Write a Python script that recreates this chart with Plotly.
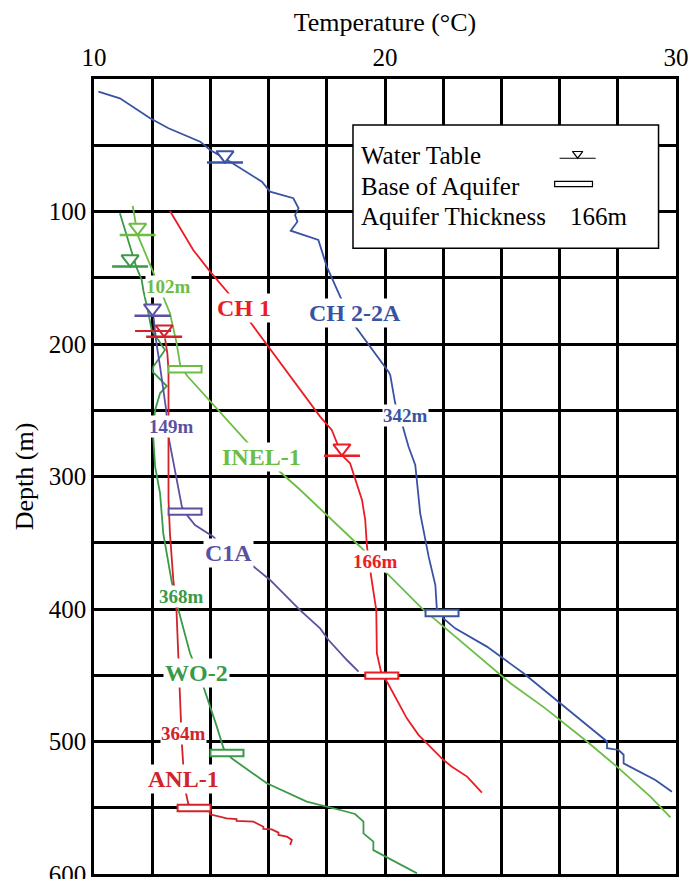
import plotly.graph_objects as go

# ---------------- data ----------------
ch2_t = [10.15, 10.89, 11.93, 12.56, 13.65, 13.99, 14.5, 15.77, 16.05, 16.85, 17.03, 16.91, 16.99, 16.76, 17.71,
         18.0, 18.46, 18.97, 20.12, 20.18, 20.35, 20.58, 20.81, 21.04, 21.21, 21.44, 21.5, 21.73, 21.78, 21.96,
         22.0, 22.41, 23.5, 24.76, 25.9, 27.63, 27.63, 28.03, 28.2, 28.2, 29.29, 29.86]
ch2_d = [9.5, 14.6, 29.7, 37.2, 47.3, 53.6, 60, 77.5, 85, 90, 97.6, 102.6, 107.7, 114.5, 121.5,
         141.6, 164.3, 186.4, 220.9, 223.4, 244.8, 259.9, 277.5, 291.3, 327.8, 353, 360.5, 381.9, 399.5, 403,
         407, 414.6, 428.4, 448.5, 468.7, 500, 505, 506.4, 510, 516.5, 529, 537.9]

ch1_t = [12.61, 13.41, 13.99, 14.62, 15.36, 15.99, 17.08, 17.77, 18.17, 18.52, 18.8, 19.21, 19.32, 19.38,
         19.55, 19.7, 19.72, 19.89, 20.07, 20.75, 21.15, 22.01, 22.3, 22.82, 23.33]
ch1_d = [99.6, 129, 145.4, 161.7, 183.2, 202, 234.7, 254.8, 264.9, 284, 290, 317.7, 332.8, 353,
         379.4, 400.8, 433.4, 450, 454.9, 482.5, 495, 514, 519, 526.5, 538.6]

inel_t = [11.33, 11.5, 11.98, 12.3, 12.61, 12.84, 12.96, 13.2, 15.3, 17.08, 19.15, 21.27, 23.96, 24.31,
          25.51, 26.94, 27.97, 29.12, 29.81]
inel_d = [95.8, 117.7, 142.9, 160, 176.8, 199.5, 215.8, 224, 275, 310, 353, 399.5, 449.8, 456,
          475, 500, 519, 541.6, 557.2]

wo2_t = [10.89, 11.45, 11.64, 11.7, 11.87, 11.98, 12.44, 12.04, 12.02, 12.5, 12.27, 12.1, 12.02, 12.1, 12.27,
         12.38, 12.67, 12.84, 13.3, 13.76, 14.22, 14.45, 14.57, 14.73, 15.94, 17.31, 18.46, 18.97, 19.26,
         19.26, 19.6, 19.6, 21.1]
wo2_d = [101.4, 141.6, 151.7, 160, 176.8, 189.4, 204.5, 217, 221, 231.7, 237.2, 249.8, 265, 292.6, 312.7,
         342.9, 379.4, 395.7, 433.4, 458.6, 488.8, 505.1, 508.7, 512.7, 531.5, 545.4, 551.7, 554.7, 560.5,
         569.3, 575.6, 582, 599.5]

c1a_t = [12.05, 12.13, 12.27, 12.48, 12.56, 12.79, 13.02, 13.13, 13.19, 13.47, 14.1, 14.62, 15.42, 16.05,
         17.08, 17.77, 18.06, 18.69, 19.09]
c1a_d = [180, 197, 217, 249.8, 270, 297.6, 322.8, 326.5, 329, 336.6, 345.4, 358, 366.8, 378.1,
         400.8, 414.6, 423.4, 438.5, 447.3]

anl_t = [12.44, 12.52, 12.56, 12.56, 12.61, 12.73, 12.82, 12.9, 12.96, 13.02, 13.07, 13.16, 13.24, 13.44,
         13.65, 13.99, 13.99, 14.22, 14.56, 14.9, 14.9, 15.48, 15.82, 15.82, 16.11, 16.34, 16.34, 16.63, 16.8, 16.74]
anl_d = [195.7, 207, 220, 317.7, 342.9, 379.4, 393.2, 436, 478.7, 501.4, 519, 539, 547, 550.2,
         551.7, 553, 555, 556.2, 558, 558.5, 560, 560.5, 564.3, 566, 566.3, 568.8, 570.5, 571.8, 574.3, 578]

# well list: name, color, line, water-table (T, D), base of aquifer (T, D), name label (T, D), thickness label
wells = ["CH 2-2A", "CH 1", "INEL-1", "WO-2", "C1A", "ANL-1"]
colors = ["#3953a4", "#ec1c24", "#6cbd45", "#3a9a47", "#5b51a3", "#d1232a"]
lines_t = [ch2_t, ch1_t, inel_t, wo2_t, c1a_t, anl_t]
lines_d = [ch2_d, ch1_d, inel_d, wo2_d, c1a_d, anl_d]
wt_t = [14.5, 18.52, 11.5, 11.24, 12.01, 12.41]
wt_d = [63.1, 284.3, 117.7, 141.6, 178.6, 194.5]
base_t = [21.96, 19.89, 13.13, 14.57, 13.13, 13.44]
base_d = [403, 450.3, 219, 508.7, 326.5, 550.2]
name_t = [18.97, 15.14, 15.77, 13.53, 14.62, 13.07]
name_d = [176.6, 173, 285, 448.5, 358, 528.5]
thick_text = ["342m", "166m", "102m", "368m", "149m", "364m"]
thick_t = [20.7, 19.66, 12.56, 13.0, 12.67, 13.07]
thick_d = [253.6, 364.3, 156.7, 390.7, 262.4, 493.8]
extra_wt_t = [12.03]   # second water-table bar drawn at ANL-1
extra_wt_d = [190.2]

x_ticks = list(range(10, 31, 2))
x_labels = ["10" if v == 10 else "20" if v == 20 else "30" if v == 30 else "" for v in x_ticks]
y_ticks = list(range(0, 601, 50))
y_labels = [str(v) if (v % 100 == 0 and v > 0) else "" for v in y_ticks]

# ---------------- figure ----------------
FONT = "Liberation Serif"
px_per_T = 582 / 20.0
px_per_D = 795 / 600.0

fig = go.Figure()
for name, c, xs, ys in zip(wells, colors, lines_t, lines_d):
    fig.add_trace(go.Scatter(x=xs, y=ys, mode="lines", line=dict(color=c, width=1.8),
                             showlegend=False, hoverinfo="skip"))

shapes = []
# legend box (between grid and traces)
shapes.append(dict(type="rect", xref="x", yref="y", x0=18.9, x1=29.4, y0=34.7, y1=127.8,
                   fillcolor="white", line=dict(color="black", width=1.5), layer="between"))

bar_half = 18 / px_per_T
rect_hw = 16.5 / px_per_T
rect_hh = 3.2 / px_per_D
for c, t, d in zip(colors, wt_t, wt_d):
    shapes.append(dict(type="line", xref="x", yref="y", x0=t - bar_half, x1=t + bar_half, y0=d, y1=d,
                       line=dict(color=c, width=2.5), layer="above"))
for t, d in zip(extra_wt_t, extra_wt_d):
    shapes.append(dict(type="line", xref="x", yref="y", x0=t - bar_half, x1=t + bar_half, y0=d, y1=d,
                       line=dict(color=colors[5], width=2), layer="above"))
for c, t, d in zip(colors, base_t, base_d):
    shapes.append(dict(type="rect", xref="x", yref="y", x0=t - rect_hw, x1=t + rect_hw,
                       y0=d - rect_hh, y1=d + rect_hh, fillcolor="white",
                       line=dict(color=c, width=2), layer="above"))

# triangles (apex touching the bar)
tri_size = 15
tri_off = (tri_size / 2) / px_per_D
fig.add_trace(go.Scatter(x=wt_t, y=[d - tri_off for d in wt_d], mode="markers",
                         marker=dict(symbol="triangle-down", size=tri_size, color="white",
                                     line=dict(color=colors, width=2)),
                         showlegend=False, hoverinfo="skip"))

# legend symbols
shapes.append(dict(type="line", xref="x", yref="y", x0=26.0, x1=27.24, y0=59.8, y1=59.8,
                   line=dict(color="black", width=1.2), layer="above"))
shapes.append(dict(type="rect", xref="x", yref="y", x0=25.83, x1=27.13, y0=77.2, y1=81.3,
                   fillcolor="white", line=dict(color="black", width=1.2), layer="above"))
fig.add_trace(go.Scatter(x=[26.62], y=[59.8 - 4.5 / px_per_D], mode="markers",
                         marker=dict(symbol="triangle-down", size=9, color="white",
                                     line=dict(color="black", width=1.2)),
                         showlegend=False, hoverinfo="skip"))

annotations = []
for c, n, t, d in zip(colors, wells, name_t, name_d):
    annotations.append(dict(x=t, y=d, xref="x", yref="y", text="<b>%s</b>" % n, showarrow=False,
                            font=dict(family=FONT, size=24, color=c), bgcolor="white", borderpad=1))
for c, n, t, d in zip(colors, thick_text, thick_t, thick_d):
    annotations.append(dict(x=t, y=d, xref="x", yref="y", text="<b>%s</b>" % n, showarrow=False,
                            font=dict(family=FONT, size=19, color=c), bgcolor="white", borderpad=0))
legend_rows = ["Water Table", "Base of Aquifer", "Aquifer Thickness"]
legend_rows_d = [57.4, 80.8, 103.9]
for txt, d in zip(legend_rows, legend_rows_d):
    annotations.append(dict(x=19.1, y=d, xref="x", yref="y", text=txt, showarrow=False, xanchor="left",
                            font=dict(family=FONT, size=25, color="black")))
annotations.append(dict(x=27.37, y=103.9, xref="x", yref="y", text="166m", showarrow=False,
                        font=dict(family=FONT, size=25, color="black")))

fig.update_layout(
    width=689, height=879,
    margin=dict(l=94, r=13, t=79, b=5),
    paper_bgcolor="white", plot_bgcolor="white",
    shapes=shapes, annotations=annotations,
    font=dict(family=FONT, color="black"),
    xaxis=dict(side="top", range=[10, 30], tickvals=x_ticks, ticktext=x_labels, automargin=False,
               showgrid=True, gridcolor="black", gridwidth=2.5, showline=True, linecolor="black",
               linewidth=2.5, mirror=True, zeroline=False, ticks="", ticklabeloverflow="allow",
               tickfont=dict(family=FONT, size=25, color="black"),
               title=dict(text="Temperature (°C)", font=dict(family=FONT, size=26, color="black"), standoff=6)),
    yaxis=dict(range=[600, 0], tickvals=y_ticks, ticktext=y_labels, automargin=False,
               showgrid=True, gridcolor="black", gridwidth=2.5, showline=True, linecolor="black",
               linewidth=2.5, mirror=True, zeroline=False, ticks="", ticklabeloverflow="allow",
               tickfont=dict(family=FONT, size=25, color="black"),
               title=dict(text="Depth (m)", font=dict(family=FONT, size=26, color="black"), standoff=8)),
)

fig.write_html("out.html", config={"displayModeBar": False},
               post_script="document.body.style.margin='0';document.body.style.overflow='hidden';")
